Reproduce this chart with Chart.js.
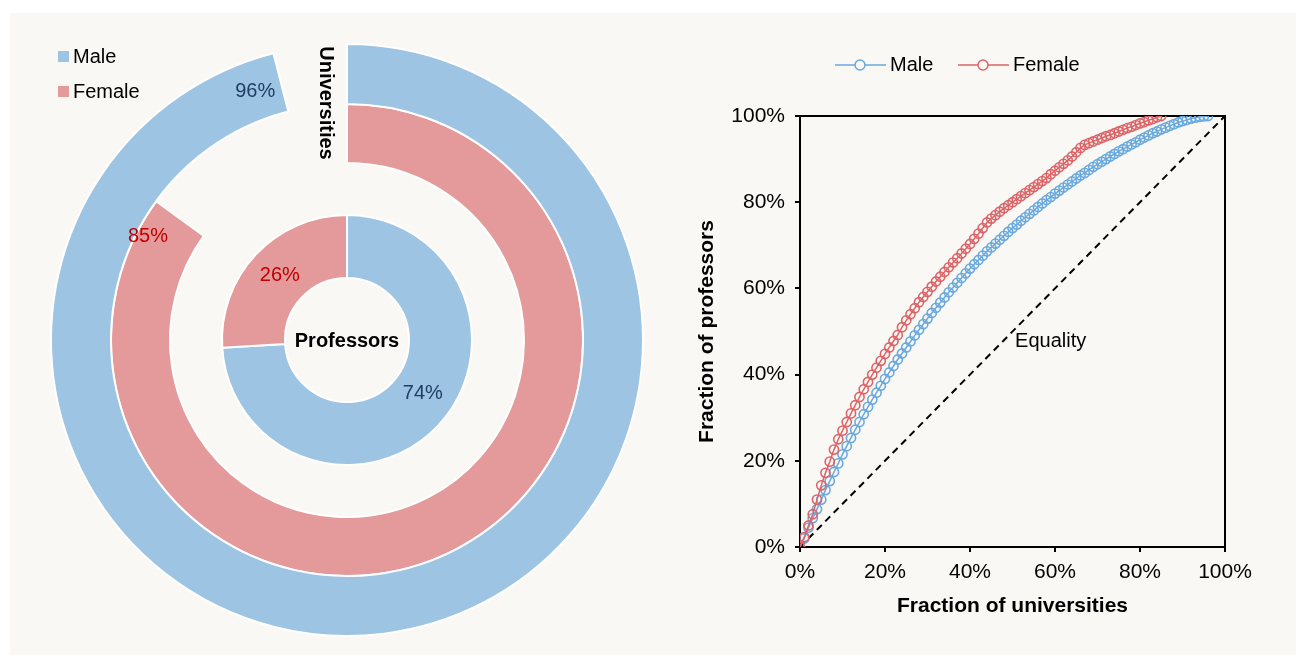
<!DOCTYPE html>
<html>
<head>
<meta charset="utf-8">
<script src="https://cdn.jsdelivr.net/npm/chart.js@4.4.1/dist/chart.umd.min.js"></script>
<style>
  body { margin: 0; background: #fff; width: 1296px; height: 655px; overflow: hidden; position: relative; }
  #panel { position: absolute; left: 10px; top: 13px; right: 0; bottom: 0; background: #f9f8f4; }
  #donut { position: absolute; left: 0; top: 0; }
  #curves { position: absolute; left: 660px; top: 0; }
</style>
</head>
<body>
<div id="panel"></div>
<canvas id="donut" width="660" height="655"></canvas>
<canvas id="curves" width="636" height="655"></canvas>
<script>
const seriesNames = ['Male', 'Female'];
const universityShare = [96, 85];   // outer rings: male, female
const professorShare = [74, 26];    // inner ring: male, female

// fraction of professors (%) at each 1% step of universities
const maleCurve = [0, 2.0, 4.5, 6.7, 8.8, 11.0, 13.2, 15.3, 17.4, 19.4,
  21.5, 23.4, 25.3, 27.2, 29.0, 30.8, 32.5, 34.2, 35.8, 37.4,
  39.0, 40.5, 42.0, 43.5, 44.9, 46.3, 47.7, 49.1, 50.4, 51.7,
  53.0, 54.3, 55.5, 56.7, 57.9, 59.1, 60.2, 61.3, 62.4, 63.5,
  64.6, 65.6, 66.6, 67.6, 68.6, 69.5, 70.4, 71.3, 72.2, 73.1,
  74.0, 74.8, 75.7, 76.5, 77.3, 78.1, 78.9, 79.7, 80.5, 81.2,
  82.0, 82.7, 83.4, 84.1, 84.8, 85.5, 86.2, 86.8, 87.5, 88.2,
  88.8, 89.4, 90.0, 90.6, 91.2, 91.8, 92.3, 92.9, 93.4, 93.9,
  94.5, 95.0, 95.5, 96.0, 96.4, 96.9, 97.3, 97.7, 98.1, 98.5,
  98.8, 99.1, 99.4, 99.6, 99.8, 99.9, 100];
const femaleCurve = [0, 2.3, 5.0, 7.6, 11.0, 14.3, 17.2, 19.8, 22.6, 25.0,
  27.0, 29.0, 31.0, 32.9, 34.8, 36.6, 38.3, 40.0, 41.6, 43.2,
  44.8, 46.3, 47.8, 49.2, 51.0, 52.6, 54.0, 55.4, 56.8, 58.0,
  59.2, 60.4, 61.6, 62.7, 63.8, 64.9, 66.0, 67.0, 68.1, 69.2,
  70.3, 71.5, 72.7, 74.0, 75.3, 76.2, 77.0, 77.8, 78.6, 79.3,
  80.0, 80.7, 81.4, 82.1, 82.8, 83.5, 84.2, 84.9, 85.6, 86.5,
  87.3, 88.1, 88.9, 89.7, 90.6, 91.6, 92.6, 93.3, 93.7, 94.1,
  94.5, 94.9, 95.3, 95.6, 96.0, 96.4, 96.8, 97.2, 97.5, 97.9,
  98.3, 98.6, 99.0, 99.3, 99.7, 100];
const equalityLine = [0, 100];
const axisTicks = [0, 20, 40, 60, 80, 100];

const FONT = "'Liberation Sans', Arial, sans-serif";
const ringBlue = '#9dc4e2';
const ringPink = '#e49a9a';
const lineBlue = '#6aa9de';
const lineRed = '#dc6468';
const none = 'rgba(0,0,0,0)';

// ---------- left: nested rings ----------
const donutLabels = [
  { ds: 0, idx: 0, along: 0.983, across: 0.48, color: '#1f3d63' },
  { ds: 1, idx: 0, along: 0.972, across: 0.8, color: '#c00000' },
  { ds: 3, idx: 0, along: 0.47, across: 0.49, color: '#1f3d63' },
  { ds: 3, idx: 1, along: 0.505, across: 0.49, color: '#c00000' }
];

const donutExtras = {
  id: 'donutExtras',
  afterDraw(chart) {
    const ctx = chart.ctx;
    ctx.save();
    ctx.textBaseline = 'middle';

    // legend
    const legendColors = [ringBlue, ringPink];
    seriesNames.forEach((name, i) => {
      ctx.fillStyle = legendColors[i];
      ctx.fillRect(58, 51 + i * 35, 11, 11);
      ctx.fillStyle = '#000';
      ctx.font = '20px ' + FONT;
      ctx.textAlign = 'left';
      ctx.fillText(name, 73, 57 + i * 35);
    });

    // percentages
    ctx.font = '20px ' + FONT;
    ctx.textAlign = 'center';
    donutLabels.forEach(l => {
      const arc = chart.getDatasetMeta(l.ds).data[l.idx];
      const p = arc.getProps(['x', 'y', 'startAngle', 'endAngle', 'innerRadius', 'outerRadius'], true);
      const a = p.startAngle + (p.endAngle - p.startAngle) * l.along;
      const r = p.innerRadius + (p.outerRadius - p.innerRadius) * l.across;
      const v = chart.data.datasets[l.ds].data[l.idx];
      ctx.fillStyle = l.color;
      ctx.fillText(v + '%', p.x + Math.cos(a) * r, p.y + Math.sin(a) * r);
    });

    // titles
    const c = chart.getDatasetMeta(0).data[0];
    ctx.fillStyle = '#000';
    ctx.font = 'bold 20px ' + FONT;
    ctx.fillText('Professors', c.x, c.y + 1);
    ctx.translate(c.x - 21, 103);
    ctx.rotate(Math.PI / 2);
    ctx.fillText('Universities', 0, 0);
    ctx.restore();
  }
};

new Chart(document.getElementById('donut'), {
  type: 'doughnut',
  data: {
    labels: seriesNames,
    datasets: [
      { data: [universityShare[0], 100 - universityShare[0]], backgroundColor: [ringBlue, none],
        borderColor: '#fff', borderWidth: [2, 0], weight: 60 },
      { data: [universityShare[1], 100 - universityShare[1]], backgroundColor: [ringPink, none],
        borderColor: '#fff', borderWidth: [2, 0], weight: 59 },
      { data: [1], backgroundColor: [none], borderWidth: 0, weight: 52 },
      { data: professorShare, backgroundColor: [ringBlue, ringPink],
        borderColor: '#fff', borderWidth: 2, weight: 63 }
    ]
  },
  options: {
    responsive: false,
    animation: false,
    events: [],
    cutout: 62,
    layout: { padding: { left: 50, top: 43, right: 16, bottom: 18 } },
    plugins: { legend: { display: false }, tooltip: { enabled: false } }
  },
  plugins: [donutExtras]
});

// ---------- right: cumulative curves ----------
function toPoints(values) {
  return values.map((v, i) => ({ x: i, y: v }));
}

const curveExtras = {
  id: 'curveExtras',
  beforeDatasetsDraw(chart) {
    const { ctx, chartArea } = chart;
    ctx.save();
    ctx.strokeStyle = '#000';
    ctx.lineWidth = 2;
    ctx.beginPath();
    ctx.moveTo(chartArea.left, chartArea.top);
    ctx.lineTo(chartArea.right, chartArea.top);
    ctx.lineTo(chartArea.right, chartArea.bottom);
    ctx.stroke();
    ctx.restore();
  },
  afterDraw(chart) {
    const ctx = chart.ctx;
    const sx = chart.scales.x, sy = chart.scales.y;
    ctx.save();
    ctx.font = '20px ' + FONT;
    ctx.fillStyle = '#000';
    ctx.textBaseline = 'middle';
    ctx.textAlign = 'left';
    ctx.fillText('Equality', sx.getPixelForValue(50.6), sy.getPixelForValue(47.6));

    // legend: line with hollow marker
    const cols = [lineBlue, lineRed];
    const starts = [175, 298];
    seriesNames.forEach((name, i) => {
      const x0 = starts[i];
      ctx.strokeStyle = cols[i];
      ctx.lineWidth = 1.5;
      ctx.beginPath();
      ctx.moveTo(x0, 65);
      ctx.lineTo(x0 + 51, 65);
      ctx.stroke();
      ctx.beginPath();
      ctx.arc(x0 + 25, 65, 5, 0, Math.PI * 2);
      ctx.fillStyle = '#f9f8f4';
      ctx.fill();
      ctx.stroke();
      ctx.fillStyle = '#000';
      ctx.fillText(name, x0 + 55, 65);
    });
    ctx.restore();
  }
};

const axisCommon = {
  type: 'linear',
  min: 0,
  max: 100,
  afterBuildTicks: s => { s.ticks = axisTicks.map(v => ({ value: v })); },
  grid: { drawOnChartArea: false, drawTicks: true, tickLength: 5, color: '#000', lineWidth: 2 },
  border: { display: true, color: '#000', width: 2 }
};

new Chart(document.getElementById('curves'), {
  type: 'line',
  data: {
    datasets: [
      { label: seriesNames[1], data: toPoints(femaleCurve), borderColor: lineRed, borderWidth: 1.5,
        pointRadius: 4.6, pointBorderWidth: 1.6, pointBackgroundColor: none, pointBorderColor: lineRed },
      { label: seriesNames[0], data: toPoints(maleCurve), borderColor: lineBlue, borderWidth: 1.5,
        pointRadius: 4.6, pointBorderWidth: 1.6, pointBackgroundColor: none, pointBorderColor: lineBlue },
      { label: 'Equality', data: equalityLine.map(v => ({ x: v, y: v })),
        borderColor: '#000', borderWidth: 2, borderDash: [7, 5], pointRadius: 0 }
    ]
  },
  options: {
    responsive: false,
    animation: false,
    events: [],
    layout: { padding: { top: 116, right: 71, left: 0, bottom: 0 } },
    plugins: { legend: { display: false }, tooltip: { enabled: false } },
    scales: {
      x: Object.assign({}, axisCommon, {
        afterFit: s => { s.height = 108; },
        ticks: { color: '#000', padding: 8, maxRotation: 0, font: { family: FONT, size: 21 }, callback: v => v + '%' },
        title: { display: true, text: 'Fraction of universities', color: '#000',
          font: { family: FONT, size: 21, weight: 'bold' }, padding: { top: 0, bottom: 36 } }
      }),
      y: Object.assign({}, axisCommon, {
        afterFit: s => { s.width = 140; },
        ticks: { color: '#000', padding: 10, font: { family: FONT, size: 21 }, callback: v => v + '%' },
        title: { display: true, text: 'Fraction of professors', color: '#000',
          font: { family: FONT, size: 21, weight: 'bold' }, padding: { top: 35, bottom: 0 } }
      })
    }
  },
  plugins: [curveExtras]
});
</script>
</body>
</html>
